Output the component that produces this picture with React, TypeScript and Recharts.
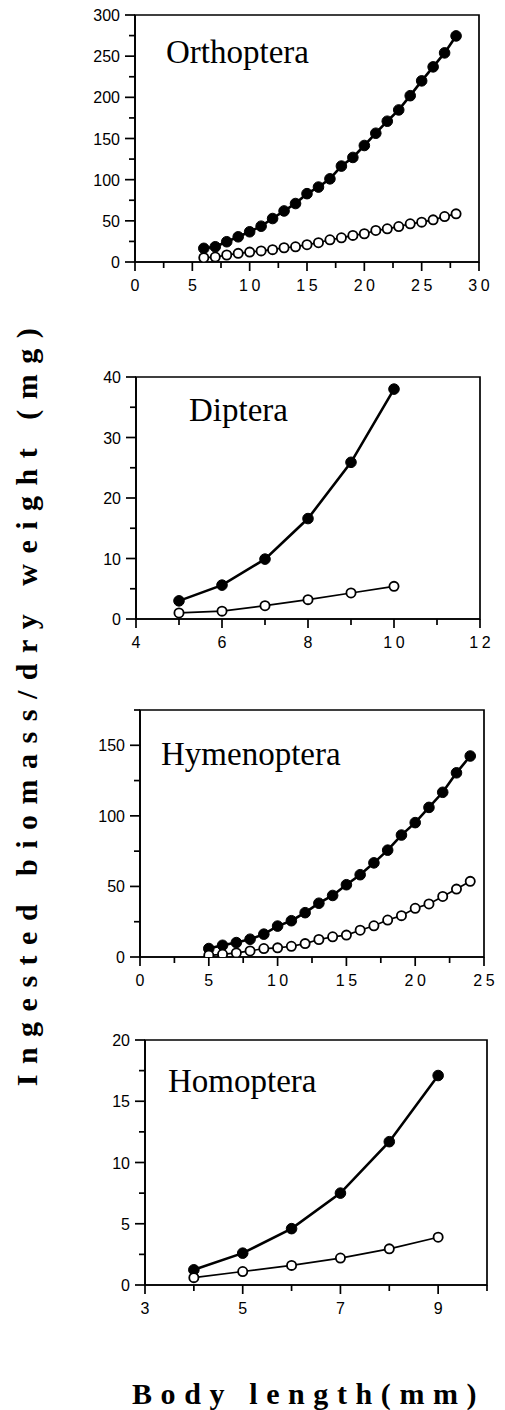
import React from 'react';
import { LineChart, Line, XAxis, YAxis, ReferenceArea } from 'recharts';

// ---------- data ----------
const orthopteraLength = [6, 7, 8, 9, 10, 11, 12, 13, 14, 15, 16, 17, 18, 19, 20, 21, 22, 23, 24, 25, 26, 27, 28];
const orthopteraFilled = [16.6, 18.5, 24.6, 30.6, 36.7, 43.5, 52.8, 62, 71, 83, 91, 101, 116.5, 127, 141.5, 156.4, 171, 184.7, 202, 220, 237, 254, 274.6];
const orthopteraOpen = [5.2, 6, 8.5, 10.5, 12, 13.5, 15, 17.3, 18.5, 21, 23.4, 27, 29.4, 32.3, 34.3, 38.3, 40.3, 43.1, 46.4, 48.4, 51.2, 55.2, 58.5];

const dipteraLength = [5, 6, 7, 8, 9, 10];
const dipteraFilled = [3.0, 5.6, 9.9, 16.6, 25.9, 38.0];
const dipteraOpen = [1.0, 1.3, 2.2, 3.2, 4.3, 5.4];

const hymenopteraLength = [5, 6, 7, 8, 9, 10, 11, 12, 13, 14, 15, 16, 17, 18, 19, 20, 21, 22, 23, 24];
const hymenopteraFilled = [6.0, 8.3, 10.2, 12.6, 16.2, 21.9, 25.7, 31.4, 38.1, 43.6, 51.2, 58.3, 66.7, 75.7, 86.4, 95.2, 106, 116.7, 130.5, 142.4];
const hymenopteraOpen = [1.2, 1.9, 2.9, 4.3, 6.0, 6.5, 7.6, 9.5, 12.4, 14.3, 15.5, 19, 22.1, 26.2, 29.3, 34.5, 37.6, 42.9, 48.1, 53.6];

const homopteraLength = [4, 5, 6, 7, 8, 9];
const homopteraFilled = [1.24, 2.6, 4.6, 7.5, 11.7, 17.1];
const homopteraOpen = [0.6, 1.1, 1.6, 2.2, 2.95, 3.9];

// ---------- ticks ----------
const orthoXTicks = [0, 2.5, 5, 7.5, 10, 12.5, 15, 17.5, 20, 22.5, 25, 27.5, 30];
const orthoXLabels = [0, 5, 10, 15, 20, 25, 30];
const orthoYTicks = [0, 25, 50, 75, 100, 125, 150, 175, 200, 225, 250, 275, 300];
const orthoYLabels = [0, 50, 100, 150, 200, 250, 300];

const dipXTicks = [4, 5, 6, 7, 8, 9, 10, 11, 12];
const dipXLabels = [4, 6, 8, 10, 12];
const dipYTicks = [0, 5, 10, 15, 20, 25, 30, 35, 40];
const dipYLabels = [0, 10, 20, 30, 40];

const hymXTicks = [0, 2.5, 5, 7.5, 10, 12.5, 15, 17.5, 20, 22.5, 25];
const hymXLabels = [0, 5, 10, 15, 20, 25];
const hymYTicks = [0, 25, 50, 75, 100, 125, 150, 175];
const hymYLabels = [0, 50, 100, 150];

const homXTicks = [3, 4, 5, 6, 7, 8, 9, 10];
const homXLabels = [3, 5, 7, 9];
const homYTicks = [0, 2.5, 5, 7.5, 10, 12.5, 15, 17.5, 20];
const homYLabels = [0, 5, 10, 15, 20];

const panelNames = ['Orthoptera', 'Diptera', 'Hymenoptera', 'Homoptera'];
const yTitle = 'Ingested biomass/dry weight (mg)';
const xTitle = 'Body length(mm)';

const build = (xs: number[], f: number[], o: number[]) =>
  xs.map((x, i) => ({ x, filled: f[i], open: o[i] }));

const SANS = '"Liberation Sans", Arial, Helvetica, sans-serif';
const SERIF = '"Liberation Serif", "Times New Roman", Times, serif';
const XLS = 3.5;

const XTick = (props: any) => {
  const { x, y, payload, labels } = props;
  const v = payload.value;
  const major = labels.includes(v);
  return (
    <g>
      <line x1={x} y1={y} x2={x} y2={y + (major ? 9 : 6)} stroke="#000" strokeWidth={1.7} />
      {major && (
        <text x={x + XLS / 2} y={y + 29} textAnchor="middle" fontSize={16} letterSpacing={XLS} fontFamily={SANS} fill="#000">
          {v}
        </text>
      )}
    </g>
  );
};

const YTick = (props: any) => {
  const { x, y, payload, labels } = props;
  const v = payload.value;
  const major = labels.includes(v);
  return (
    <g>
      <line x1={x} y1={y} x2={x - (major ? 10 : 6)} y2={y} stroke="#000" strokeWidth={1.7} />
      {major && (
        <text x={x - 15} y={y + 6} textAnchor="end" fontSize={16} fontFamily={SANS} fill="#000">
          {v}
        </text>
      )}
    </g>
  );
};

type Box = { left: number; right: number; top: number; bottom: number };

const Panel = ({ box, data, xDomain, yDomain, xTicks, xLabels, yTicks, yLabels }: {
  box: Box; data: any[]; xDomain: [number, number]; yDomain: [number, number];
  xTicks: number[]; xLabels: number[]; yTicks: number[]; yLabels: number[];
}) => {
  const padTop = 20;
  const padBottom = 60;
  const h = box.bottom - box.top + padTop + padBottom;
  return (
    <div style={{ position: 'absolute', left: 0, top: box.top - padTop, width: 505, height: h }}>
      <LineChart
        width={505}
        height={h}
        data={data}
        margin={{ top: padTop, right: 505 - box.right, bottom: padBottom - 30, left: box.left - 60 }}
        style={{ overflow: 'visible' }}
      >
        <XAxis
          type="number"
          dataKey="x"
          domain={xDomain}
          ticks={xTicks}
          interval={0}
          height={30}
          tickSize={0}
          tickMargin={0}
          tickLine={false}
          axisLine={{ stroke: '#000', strokeWidth: 1.7 }}
          tick={(p: any) => <XTick {...p} labels={xLabels} />}
          allowDataOverflow
        />
        <YAxis
          type="number"
          domain={yDomain}
          ticks={yTicks}
          interval={0}
          width={60}
          tickSize={0}
          tickMargin={0}
          tickLine={false}
          axisLine={{ stroke: '#000', strokeWidth: 1.7 }}
          tick={(p: any) => <YTick {...p} labels={yLabels} />}
          allowDataOverflow
        />
        <ReferenceArea
          x1={xDomain[0]}
          x2={xDomain[1]}
          y1={yDomain[0]}
          y2={yDomain[1]}
          fill="none"
          fillOpacity={0}
          stroke="#000"
          strokeWidth={1.7}
          ifOverflow="visible"
        />
        <Line
          type="linear"
          dataKey="filled"
          stroke="#000"
          strokeWidth={2.6}
          dot={{ r: 5.3, fill: '#000', stroke: '#000', strokeWidth: 1 }}
          isAnimationActive={false}
        />
        <Line
          type="linear"
          dataKey="open"
          stroke="#000"
          strokeWidth={1.7}
          dot={{ r: 4.6, fill: '#fff', stroke: '#000', strokeWidth: 1.8 }}
          isAnimationActive={false}
        />
      </LineChart>
    </div>
  );
};

export default function App() {
  return (
    <div style={{ position: 'absolute', left: 0, top: 0, width: 505, height: 1410, background: '#fff' }}>
      <Panel
        box={{ left: 135, right: 479, top: 15, bottom: 262 }}
        data={build(orthopteraLength, orthopteraFilled, orthopteraOpen)}
        xDomain={[0, 30]} yDomain={[0, 300]}
        xTicks={orthoXTicks} xLabels={orthoXLabels} yTicks={orthoYTicks} yLabels={orthoYLabels}
      />
      <Panel
        box={{ left: 136, right: 480, top: 377, bottom: 619 }}
        data={build(dipteraLength, dipteraFilled, dipteraOpen)}
        xDomain={[4, 12]} yDomain={[0, 40]}
        xTicks={dipXTicks} xLabels={dipXLabels} yTicks={dipYTicks} yLabels={dipYLabels}
      />
      <Panel
        box={{ left: 140, right: 484, top: 710, bottom: 957 }}
        data={build(hymenopteraLength, hymenopteraFilled, hymenopteraOpen)}
        xDomain={[0, 25]} yDomain={[0, 175]}
        xTicks={hymXTicks} xLabels={hymXLabels} yTicks={hymYTicks} yLabels={hymYLabels}
      />
      <Panel
        box={{ left: 145, right: 487, top: 1040, bottom: 1285 }}
        data={build(homopteraLength, homopteraFilled, homopteraOpen)}
        xDomain={[3, 10]} yDomain={[0, 20]}
        xTicks={homXTicks} xLabels={homXLabels} yTicks={homYTicks} yLabels={homYLabels}
      />
      <svg width={505} height={1410} style={{ position: 'absolute', left: 0, top: 0, pointerEvents: 'none' }}>
        <g fontFamily={SERIF} fontSize={33} fill="#000">
          <text x={166} y={63}>{panelNames[0]}</text>
          <text x={189} y={421}>{panelNames[1]}</text>
          <text x={161} y={765}>{panelNames[2]}</text>
          <text x={168} y={1092}>{panelNames[3]}</text>
        </g>
        <text
          x={0}
          y={0}
          transform="translate(37, 702) rotate(-90)"
          textAnchor="middle"
          fontFamily={SERIF}
          fontWeight="bold"
          fontSize={30}
          letterSpacing={10.5}
          fill="#000"
        >
          {yTitle}
        </text>
        <text
          x={132}
          y={1404}
          fontFamily={SERIF}
          fontWeight="bold"
          fontSize={30}
          letterSpacing={8.6}
          fill="#000"
        >
          {xTitle}
        </text>
      </svg>
    </div>
  );
}
